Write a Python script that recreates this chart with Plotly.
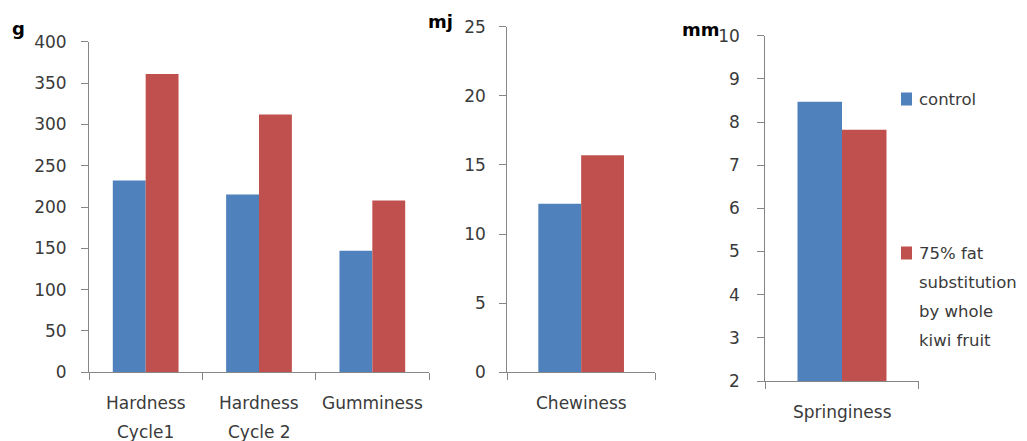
import plotly.graph_objects as go

# Texture profile data
cats_g = ["Hardness Cycle1", "Hardness Cycle 2", "Gumminess"]
cat_labels_g = [["Hardness", "Cycle1"], ["Hardness", "Cycle 2"], ["Gumminess"]]
control_g = [232, 215, 147]
kiwi_g = [361, 312, 208]

cats_mj = ["Chewiness"]
control_mj = [12.2]
kiwi_mj = [15.7]

cats_mm = ["Springiness"]
control_mm = [8.47]
kiwi_mm = [7.82]

series_names = ["control", "75% fat substitution by whole kiwi fruit"]
legend_lines = [["control"], ["75% fat", "substitution", "by whole", "kiwi fruit"]]
colors = ["#4F81BD", "#C0504D"]

W, H = 1027, 441
FONT = "DejaVu Sans"
TXT = "#3a3a3a"
AX = "#868686"


def px(x):
    return x / W


def py(y):
    return (H - y) / H


fig = go.Figure()

panels = [
    ("x", "y", cats_g, control_g, kiwi_g),
    ("x2", "y2", cats_mj, control_mj, kiwi_mj),
    ("x3", "y3", cats_mm, control_mm, kiwi_mm),
]
for xa, ya, cats, c_vals, k_vals in panels:
    for name, vals, col in zip(series_names, [c_vals, k_vals], colors):
        fig.add_trace(go.Bar(x=cats, y=vals, name=name, marker_color=col,
                             marker_line_width=0, xaxis=xa, yaxis=ya,
                             showlegend=False))

axis_common = dict(showline=True, linecolor=AX, linewidth=1, ticks="outside",
                   tickcolor=AX, ticklen=7, showgrid=False, zeroline=False,
                   automargin=False,
                   tickfont=dict(family=FONT, size=17, color=TXT))

fig.update_layout(
    width=W, height=H, autosize=False,
    margin=dict(l=0, r=0, t=0, b=0, pad=0, autoexpand=False),
    paper_bgcolor="white", plot_bgcolor="white",
    barmode="group", bargap=0.42, bargroupgap=0,
    showlegend=False,
    xaxis=dict(domain=[px(89), px(429)], anchor="y", tickson="boundaries",
               showticklabels=False, **axis_common),
    yaxis=dict(domain=[py(372.3), py(41.7)], anchor="x", range=[0, 400],
               dtick=50, ticklabelstandoff=11, **axis_common),
    xaxis2=dict(domain=[px(507.3), px(655)], anchor="y2", tickson="boundaries",
                showticklabels=False, **axis_common),
    yaxis2=dict(domain=[py(372.3), py(26.7)], anchor="x2", range=[0, 25],
                dtick=5, ticklabelstandoff=10, **axis_common),
    xaxis3=dict(domain=[px(765.3), px(918.7)], anchor="y3", tickson="boundaries",
                showticklabels=False, **axis_common),
    yaxis3=dict(domain=[py(381), py(35.7)], anchor="x3", range=[2, 10],
                dtick=1, ticklabelstandoff=14, **axis_common),
)

annotations = []
# category labels, one annotation per line for wide line spacing
label_sets = [("x", "y", cats_g, cat_labels_g, 372.3),
              ("x2", "y2", cats_mj, [["Chewiness"]], 372.3),
              ("x3", "y3", cats_mm, [["Springiness"]], 381)]
for xa, ya, cats, lines_list, base in label_sets:
    for cat, lines in zip(cats, lines_list):
        for i, line in enumerate(lines):
            annotations.append(dict(
                x=cat, xref=xa, y=py(base + 31 + 29 * i), yref="paper",
                text=line, showarrow=False, xanchor="center", yanchor="middle",
                font=dict(family=FONT, size=17, color=TXT)))

# unit labels
for txt, x, y in [("g", 18, 28), ("mj", 440, 22), ("mm", 701, 29)]:
    annotations.append(dict(x=px(x), y=py(y), xref="paper", yref="paper",
                            text="<b>%s</b>" % txt, showarrow=False,
                            xanchor="center", yanchor="middle",
                            font=dict(family=FONT, size=18, color="black")))

# legend
shapes = []
legend_top = [99, 253]
for lines, col, y0 in zip(legend_lines, colors, legend_top):
    shapes.append(dict(type="rect", xref="paper", yref="paper",
                       x0=px(901), x1=px(912), y0=py(y0 - 6.5), y1=py(y0 + 6.5),
                       fillcolor=col, line_width=0))
    for i, line in enumerate(lines):
        annotations.append(dict(x=px(917), y=py(y0 + 29 * i), xref="paper",
                                yref="paper", text=line, showarrow=False,
                                xanchor="left", yanchor="middle",
                                font=dict(family=FONT, size=16.5, color=TXT)))

fig.update_layout(annotations=annotations, shapes=shapes)

fig.write_html("out.html")
